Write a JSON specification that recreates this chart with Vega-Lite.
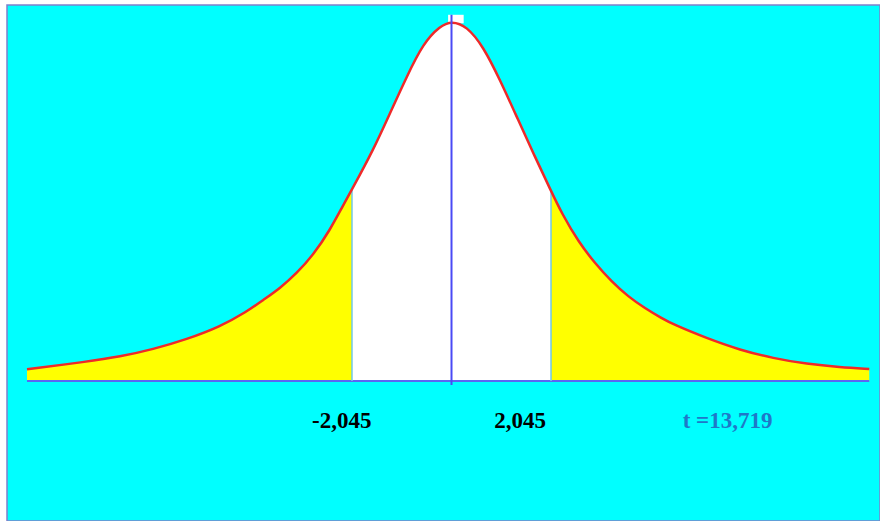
{
  "$schema": "https://vega.github.io/schema/vega-lite/v6.json",
  "width": 873,
  "height": 516,
  "autosize": {"type": "none"},
  "padding": {"left": 7, "top": 5, "right": 0, "bottom": 0},
  "background": "#ffffff",
  "config": {
    "view": {"fill": "#00ffff", "stroke": "#8080cc", "strokeWidth": 1.5}
  },
  "datasets": {
    "curve": [
      {"t": -8.724, "d": 0.0130, "part": "lower"},
      {"t": -7.497, "d": 0.0215, "part": "lower"},
      {"t": -6.813, "d": 0.0271, "part": "lower"},
      {"t": -6.134, "d": 0.0353, "part": "lower"},
      {"t": -5.442, "d": 0.0465, "part": "lower"},
      {"t": -4.758, "d": 0.0605, "part": "lower"},
      {"t": -4.209, "d": 0.0772, "part": "lower"},
      {"t": -3.868, "d": 0.0903, "part": "lower"},
      {"t": -3.524, "d": 0.1033, "part": "lower"},
      {"t": -3.181, "d": 0.1200, "part": "lower"},
      {"t": -2.840, "d": 0.1404, "part": "lower"},
      {"t": -2.497, "d": 0.1682, "part": "lower"},
      {"t": -2.224, "d": 0.1961, "part": "lower"},
      {"t": -2.045, "d": 0.2134, "part": "lower"},
      {"t": -2.045, "d": 0.2134, "part": "center"},
      {"t": -1.607, "d": 0.2574, "part": "center"},
      {"t": -1.264, "d": 0.2983, "part": "center"},
      {"t": -0.921, "d": 0.3391, "part": "center"},
      {"t": -0.580, "d": 0.3763, "part": "center"},
      {"t": -0.236, "d": 0.3955, "part": "center"},
      {"t": 0.0, "d": 0.4010, "part": "center"},
      {"t": 0.312, "d": 0.3955, "part": "center"},
      {"t": 0.654, "d": 0.3725, "part": "center"},
      {"t": 0.997, "d": 0.3354, "part": "center"},
      {"t": 1.340, "d": 0.2945, "part": "center"},
      {"t": 1.681, "d": 0.2537, "part": "center"},
      {"t": 2.045, "d": 0.2117, "part": "center"},
      {"t": 2.045, "d": 0.2117, "part": "upper"},
      {"t": 2.265, "d": 0.1869, "part": "upper"},
      {"t": 2.606, "d": 0.1552, "part": "upper"},
      {"t": 2.949, "d": 0.1311, "part": "upper"},
      {"t": 3.292, "d": 0.1106, "part": "upper"},
      {"t": 3.633, "d": 0.0939, "part": "upper"},
      {"t": 3.977, "d": 0.0810, "part": "upper"},
      {"t": 4.320, "d": 0.0699, "part": "upper"},
      {"t": 4.558, "d": 0.0630, "part": "upper"},
      {"t": 5.245, "d": 0.0476, "part": "upper"},
      {"t": 5.929, "d": 0.0345, "part": "upper"},
      {"t": 6.613, "d": 0.0253, "part": "upper"},
      {"t": 7.300, "d": 0.0189, "part": "upper"},
      {"t": 7.984, "d": 0.0153, "part": "upper"},
      {"t": 8.586, "d": 0.0134, "part": "upper"}
    ],
    "critical": [
      {"t": -2.045, "d": 0, "d2": 0.2134},
      {"t": 2.045, "d": 0, "d2": 0.2117}
    ],
    "center": [
      {"t": 0, "d": -0.0045, "d2": 0.408}
    ],
    "patch": [
      {"t": -0.07, "t2": 0.25, "d": 0.3985, "d2": 0.408}
    ],
    "baseline": [
      {"t": -8.724, "t2": 8.586, "d": 0}
    ],
    "labels": [
      {"t": -2.256, "d": -0.0524, "text": "-2,045", "kind": "crit"},
      {"t": 1.408, "d": -0.0524, "text": "2,045", "kind": "crit"},
      {"t": 5.672, "d": -0.0524, "text": "t =13,719", "kind": "stat"}
    ]
  },
  "layer": [
    {
      "data": {"name": "curve"},
      "mark": {"type": "area", "interpolate": "basis", "strokeWidth": 0},
      "encoding": {
        "x": {"field": "t", "type": "quantitative", "scale": {"domain": [-9.135, 8.806], "nice": false, "zero": false}, "axis": null},
        "y": {"field": "d", "type": "quantitative", "stack": null, "scale": {"domain": [-0.156, 0.4189], "nice": false, "zero": false}, "axis": null},
        "y2": {"datum": 0},
        "color": {"field": "part", "type": "nominal", "scale": {"domain": ["lower", "center", "upper"], "range": ["#ffff00", "#ffffff", "#ffff00"]}, "legend": null}
      }
    },
    {
      "data": {"name": "patch"},
      "mark": {"type": "rect", "color": "#ffffff"},
      "encoding": {
        "x": {"field": "t", "type": "quantitative"},
        "x2": {"field": "t2"},
        "y": {"field": "d", "type": "quantitative"},
        "y2": {"field": "d2"}
      }
    },
    {
      "data": {"name": "baseline"},
      "mark": {"type": "rule", "color": "#5b66f2", "strokeWidth": 2},
      "encoding": {
        "x": {"field": "t", "type": "quantitative"},
        "x2": {"field": "t2"},
        "y": {"field": "d", "type": "quantitative"}
      }
    },
    {
      "data": {"name": "critical"},
      "mark": {"type": "rule", "color": "#70c8e8", "strokeWidth": 1.5},
      "encoding": {
        "x": {"field": "t", "type": "quantitative"},
        "y": {"field": "d", "type": "quantitative"},
        "y2": {"field": "d2"}
      }
    },
    {
      "data": {"name": "curve"},
      "transform": [{"filter": "!(datum.part == 'center' && abs(datum.t) == 2.045)"}],
      "mark": {"type": "line", "interpolate": "basis", "color": "#ee2a2a", "strokeWidth": 2.5},
      "encoding": {
        "x": {"field": "t", "type": "quantitative"},
        "y": {"field": "d", "type": "quantitative"}
      }
    },
    {
      "data": {"name": "center"},
      "mark": {"type": "rule", "color": "#4a4af5", "strokeWidth": 2},
      "encoding": {
        "x": {"field": "t", "type": "quantitative"},
        "y": {"field": "d", "type": "quantitative"},
        "y2": {"field": "d2"}
      }
    },
    {
      "data": {"name": "labels"},
      "transform": [{"filter": "datum.kind == 'crit'"}],
      "mark": {"type": "text", "font": "Liberation Serif", "fontWeight": "bold", "fontSize": 23, "align": "center", "baseline": "alphabetic", "color": "#000000"},
      "encoding": {
        "x": {"field": "t", "type": "quantitative"},
        "y": {"field": "d", "type": "quantitative"},
        "text": {"field": "text"}
      }
    },
    {
      "data": {"name": "labels"},
      "transform": [{"filter": "datum.kind == 'stat'"}],
      "mark": {"type": "text", "font": "Liberation Serif", "fontWeight": "bold", "fontSize": 23, "align": "center", "baseline": "alphabetic", "color": "#1f78c8"},
      "encoding": {
        "x": {"field": "t", "type": "quantitative"},
        "y": {"field": "d", "type": "quantitative"},
        "text": {"field": "text"}
      }
    }
  ]
}
